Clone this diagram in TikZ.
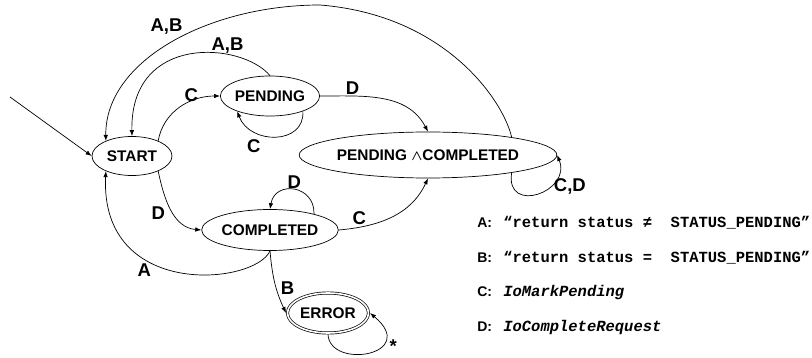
\documentclass[tikz,border=0pt]{standalone}
\usepackage{fontspec}
\setmainfont{Liberation Sans}
\newfontfamily\keyfont{Liberation Mono}
\usetikzlibrary{shapes.geometric,arrows.meta}

\tikzset{
  state/.style={ellipse, draw, inner sep=0pt, font=\fontsize{15.4}{18}\selectfont\bfseries},
  lbl/.style={font=\fontsize{18.5}{22}\selectfont\bfseries, inner sep=1pt},
  key/.style={anchor=base west, inner sep=0pt, font=\fontsize{14}{16}\selectfont\bfseries},
}
\newcommand{\keytext}[1]{\hspace{11.2pt}{\keyfont\fontsize{15.5}{18}\selectfont #1}}

\begin{document}
\begin{tikzpicture}[x=1pt, y=-1pt, line width=0.7pt, >={Latex[length=6pt,width=4.5pt]}]
\useasboundingbox (0,0) rectangle (812,358);

\node (S) at (132,156) [state, minimum width=80pt, minimum height=39pt] {START};
\node (P) at (270,96) [state, minimum width=94pt, minimum height=40pt] {PENDING};
\node (PC) at (428,155) [state, minimum width=200pt, minimum height=46pt] {PENDING {\boldmath$\wedge$}COMPLETED};
\node (C) at (270,230) [state, minimum width=116pt, minimum height=41pt] {COMPLETED};
\node (E) at (328,313) [state, double, double distance=1.6pt, outer sep=1.5pt, minimum width=81pt, minimum height=40pt] {ERROR};
\coordinate (init) at (10,97);

\draw [->] (init) -- (S.west);
\draw [->] (S.30) to[out=80, in=180] node[pos=.62, above, lbl, xshift=3pt] {C} (P.west);
\draw [->] (P.-25) .. controls (305,145) and (250,145) .. (P.-155) node[pos=.65, below left, lbl, yshift=-4pt] {C};
\draw [->] (P.north) .. controls (242,42) and (130,33) .. (S.north) node[pos=.3, above, lbl] {A,B};
\draw [->] (PC.12) .. controls (503,100) and (445,15) .. (320,5) .. controls (210,5) and (105,60) .. (S.150) node[pos=.45, above left, lbl] {A,B};
\draw [->] (P.east) to[out=0, in=118] node[pos=.25, above, lbl] {D} (PC.north);
\draw [->] (PC.-12) .. controls (505,215) and (572,192) .. (PC.east) node[pos=.7, right, lbl, yshift=-3pt] {C,D};

\draw [->] (S.-30) to[out=-78, in=175] node[pos=.5, left=5pt, lbl, yshift=-3pt] {D} (C.west);
\draw [->] (C.20) .. controls (315,185) and (275,180) .. (C.north) node[pos=.5, above, lbl] {D};
\draw [->] (C.east) to[out=5, in=-115] node[pos=.25, above left, lbl] {C} (PC.south);
\draw [->] (C.south) .. controls (255,285) and (100,300) .. (S.-150) node[pos=.62, below left, lbl] {A};
\draw [->] (C.south) to[out=-85, in=115] node[pos=.6, right=3pt, lbl] {B} (E.west);
\draw [->] (E.south) .. controls (330,370) and (420,355) .. (E.east) node[pos=.7, below right, lbl, xshift=5pt, yshift=4pt] {*};

\node (kA) at (477,228) [key] {A:\keytext{“return status ≠\ \ STATUS\_PENDING”}};
\node (kB) at (477,263) [key] {B:\keytext{“return status =\ \ STATUS\_PENDING”}};
\node (kC) at (477,297) [key] {C:\keytext{\itshape IoMarkPending}};
\node (kD) at (477,332) [key] {D:\keytext{\itshape IoCompleteRequest}};
\end{tikzpicture}
\end{document}
